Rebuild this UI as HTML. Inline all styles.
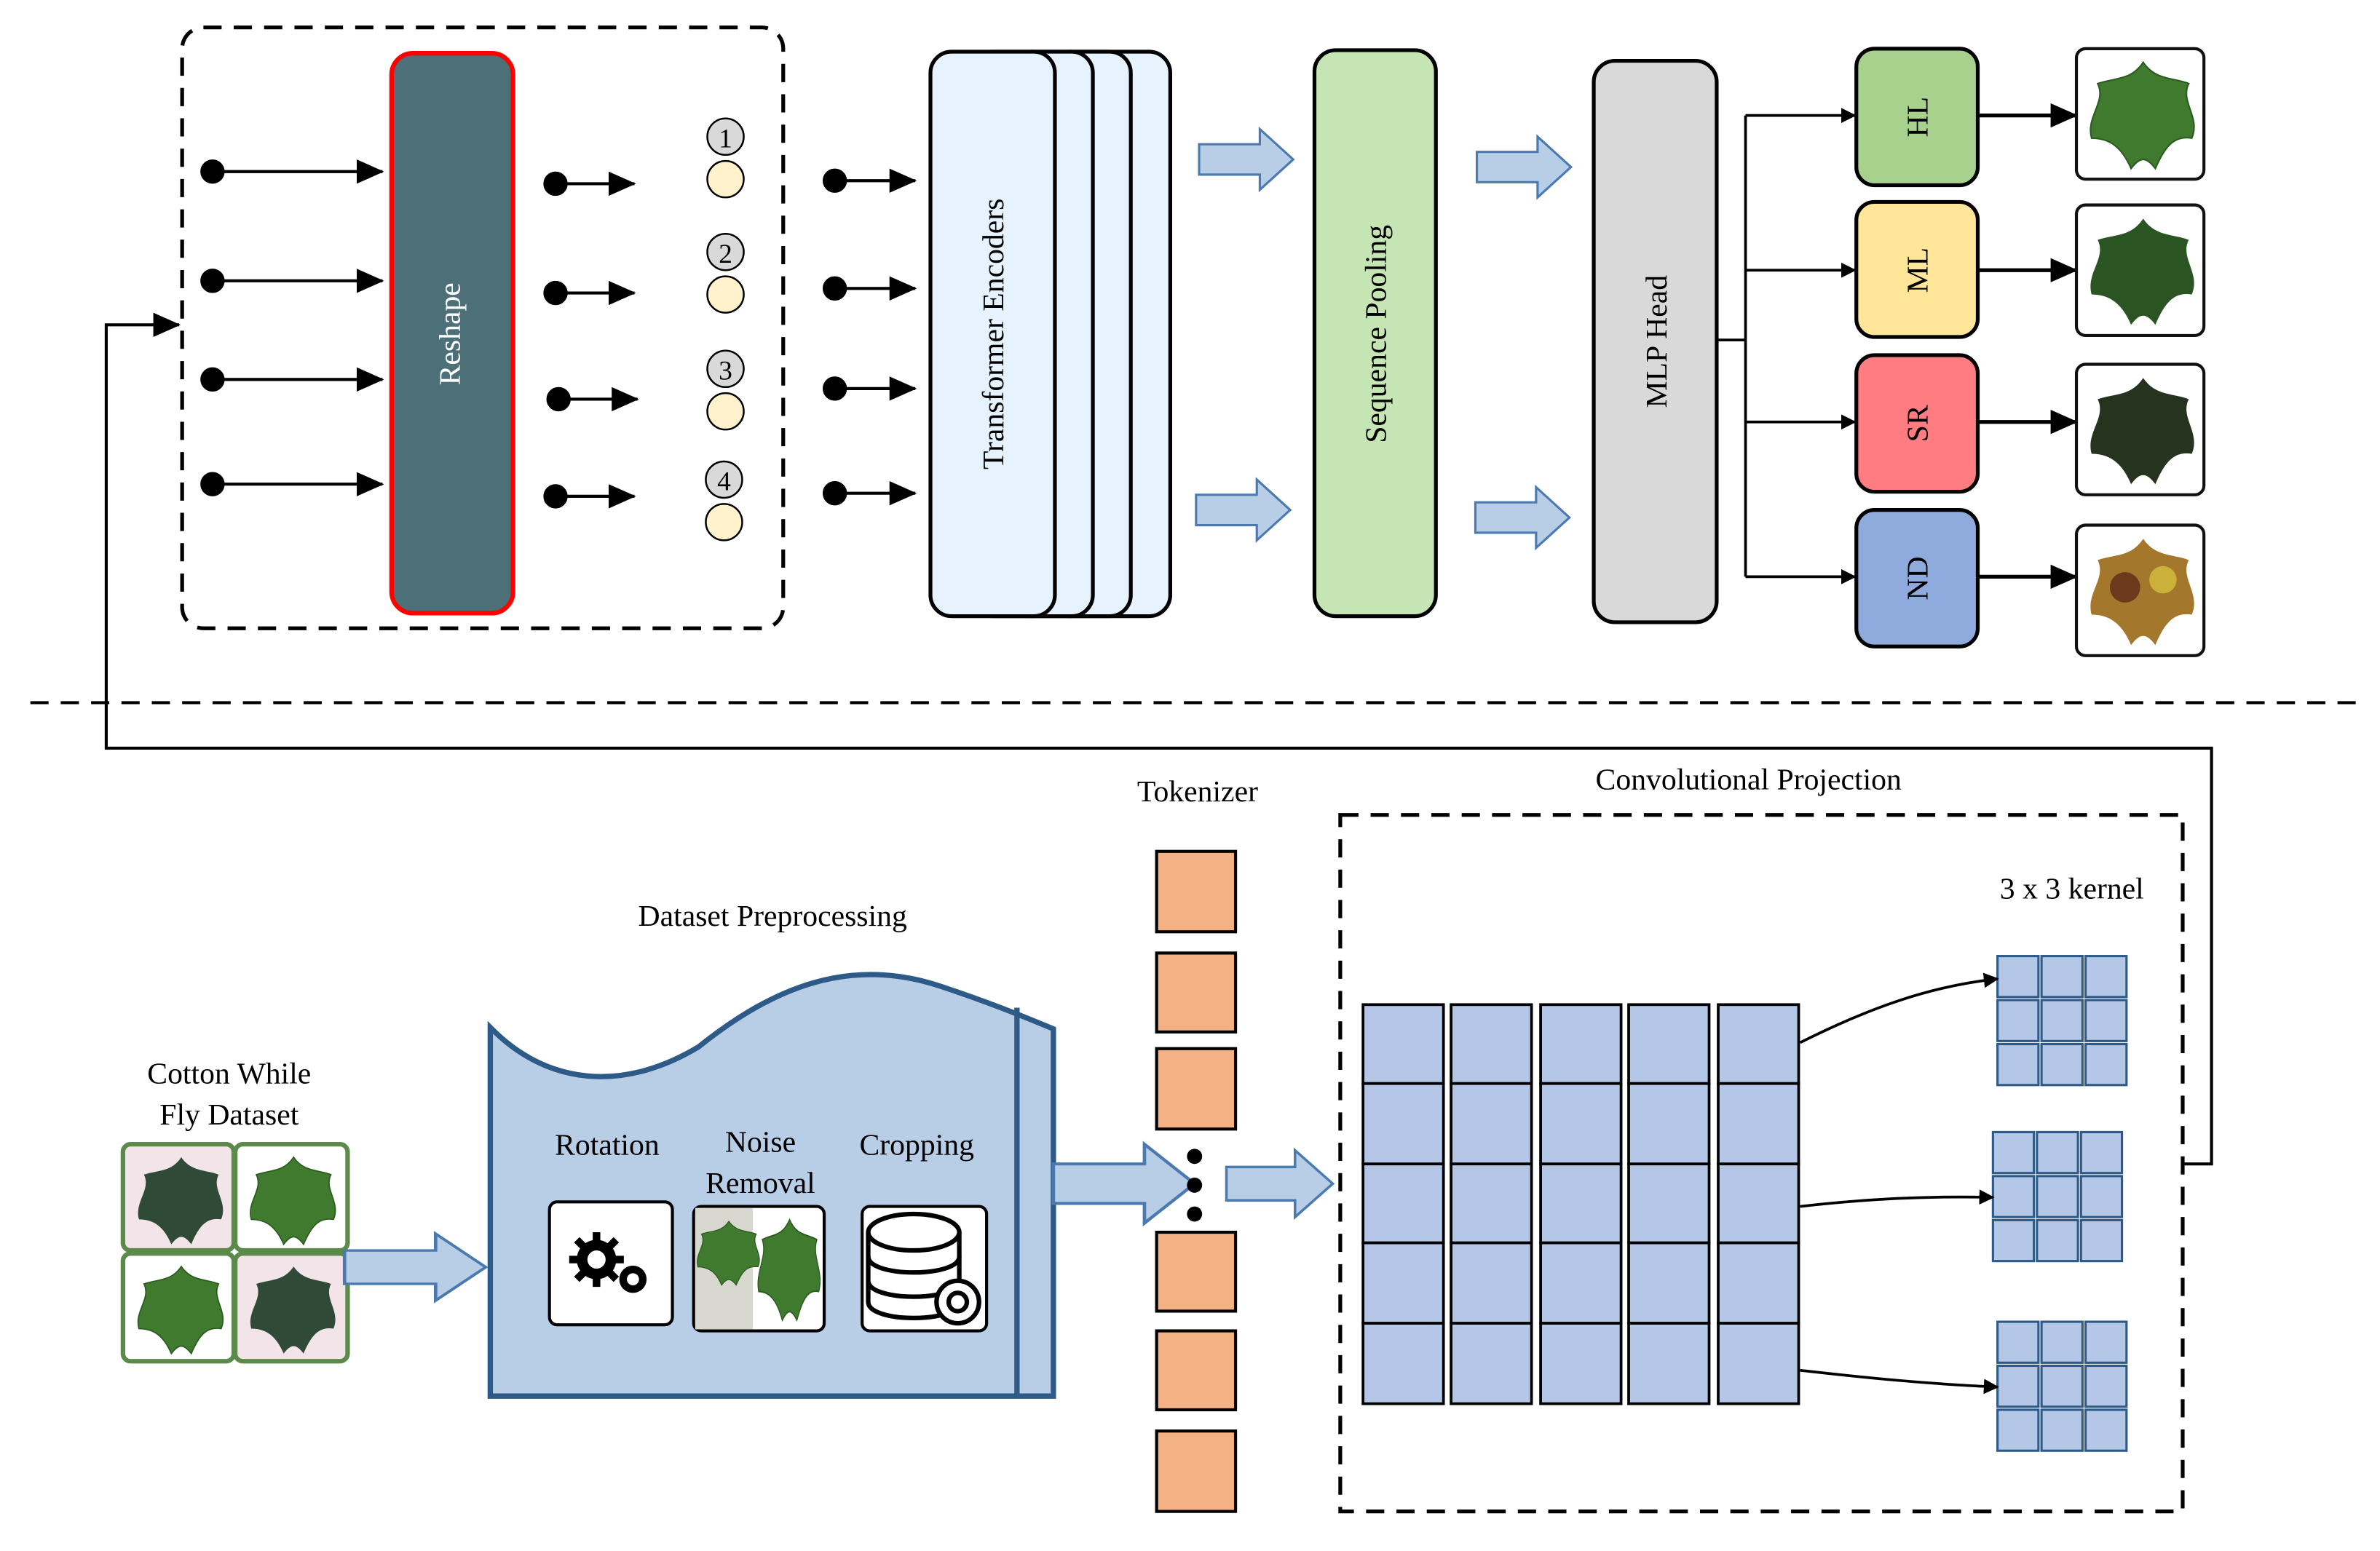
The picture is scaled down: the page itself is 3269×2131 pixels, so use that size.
<!DOCTYPE html>
<html><head><meta charset="utf-8"><style>html,body{margin:0;padding:0;background:#fff}svg{display:block}</style></head>
<body>
<svg width="3269" height="2131" viewBox="0 0 1568 1022" xmlns="http://www.w3.org/2000/svg" font-family="Liberation Serif, serif">
<defs>
<marker id="ah" markerWidth="10" markerHeight="10" refX="9" refY="5" orient="auto" markerUnits="userSpaceOnUse"><path d="M0,0 L10,5 L0,10 z" fill="#000"/></marker>
<marker id="ah2" markerWidth="18" markerHeight="16" refX="17" refY="8" orient="auto" markerUnits="userSpaceOnUse"><path d="M0,0 L18,8 L0,16 z" fill="#000"/></marker>
<g id="barrow"><path d="M0,-10 L40,-10 L40,-20 L62,0 L40,20 L40,10 L0,10 z" fill="#b8cde6" stroke="#4a7ab0" stroke-width="1.5"/></g>
<g id="leaf"><path d="M42,8 C50,20 62,18 72,22 C66,34 80,44 74,58 C62,56 56,64 50,78 C44,70 40,70 34,78 C28,64 20,58 8,58 C4,44 18,34 12,22 C24,18 34,20 42,8z" fill="#3f7a2e" stroke="#2b5a1e" stroke-width="1"/></g>
<g id="k" fill="#b4c7e7" stroke="#2e5a87" stroke-width="1.5">
<rect x="0" y="0" width="27" height="27"/><rect x="29" y="0" width="27" height="27"/><rect x="58" y="0" width="27" height="27"/>
<rect x="0" y="29" width="27" height="27"/><rect x="29" y="29" width="27" height="27"/><rect x="58" y="29" width="27" height="27"/>
<rect x="0" y="58" width="27" height="27"/><rect x="29" y="58" width="27" height="27"/><rect x="58" y="58" width="27" height="27"/>
</g>
</defs>

<!-- top dashed box -->
<rect x="120" y="18" width="396" height="396" rx="14" fill="none" stroke="#000" stroke-width="2.5" stroke-dasharray="12,8"/>
<rect x="258" y="35" width="80" height="369" rx="14" fill="#4d6f78" stroke="#f00" stroke-width="3"/>
<text transform="translate(303,220) rotate(-90)" text-anchor="middle" font-size="20" fill="#fff">Reshape</text>

<g stroke="#000" stroke-width="2" fill="#000">
<circle cx="140" cy="113" r="7"/><line x1="140" y1="113" x2="252" y2="113" marker-end="url(#ah2)"/>
<circle cx="140" cy="185" r="7"/><line x1="140" y1="185" x2="252" y2="185" marker-end="url(#ah2)"/>
<circle cx="140" cy="250" r="7"/><line x1="140" y1="250" x2="252" y2="250" marker-end="url(#ah2)"/>
<circle cx="140" cy="319" r="7"/><line x1="140" y1="319" x2="252" y2="319" marker-end="url(#ah2)"/>
<circle cx="366" cy="121" r="7"/><line x1="366" y1="121" x2="418" y2="121" marker-end="url(#ah2)"/>
<circle cx="366" cy="193" r="7"/><line x1="366" y1="193" x2="418" y2="193" marker-end="url(#ah2)"/>
<circle cx="368" cy="263" r="7"/><line x1="368" y1="263" x2="420" y2="263" marker-end="url(#ah2)"/>
<circle cx="366" cy="327" r="7"/><line x1="366" y1="327" x2="418" y2="327" marker-end="url(#ah2)"/>
<circle cx="550" cy="119" r="7"/><line x1="550" y1="119" x2="603" y2="119" marker-end="url(#ah2)"/>
<circle cx="550" cy="190" r="7"/><line x1="550" y1="190" x2="603" y2="190" marker-end="url(#ah2)"/>
<circle cx="550" cy="256" r="7"/><line x1="550" y1="256" x2="603" y2="256" marker-end="url(#ah2)"/>
<circle cx="550" cy="325" r="7"/><line x1="550" y1="325" x2="603" y2="325" marker-end="url(#ah2)"/>
</g>
<g stroke="#000" stroke-width="1.2">
<circle cx="478" cy="90" r="12" fill="#d9d9d9"/><circle cx="478" cy="118" r="12" fill="#fff2cc"/>
<circle cx="478" cy="166" r="12" fill="#d9d9d9"/><circle cx="478" cy="194" r="12" fill="#fff2cc"/>
<circle cx="478" cy="243" r="12" fill="#d9d9d9"/><circle cx="478" cy="271" r="12" fill="#fff2cc"/>
<circle cx="477" cy="316" r="12" fill="#d9d9d9"/><circle cx="477" cy="344" r="12" fill="#fff2cc"/>
</g>
<g font-size="18" text-anchor="middle"><text x="478" y="97">1</text><text x="478" y="173">2</text><text x="478" y="250">3</text><text x="477" y="323">4</text></g>

<!-- transformer stack -->
<g fill="#e6f2fd" stroke="#000" stroke-width="2.5">
<rect x="690" y="34" width="81" height="372" rx="14"/>
<rect x="665" y="34" width="80" height="372" rx="14"/>
<rect x="640" y="34" width="80" height="372" rx="14"/>
<rect x="613" y="34" width="82" height="372" rx="14"/>
</g>
<text transform="translate(661,220) rotate(-90)" text-anchor="middle" font-size="20">Transformer Encoders</text>

<use href="#barrow" transform="translate(790,105)"/>
<use href="#barrow" transform="translate(788,336)"/>
<use href="#barrow" transform="translate(973,110)"/>
<use href="#barrow" transform="translate(972,341)"/>

<rect x="866" y="33" width="80" height="373" rx="14" fill="#c6e5b5" stroke="#000" stroke-width="2.5"/>
<text transform="translate(913,220) rotate(-90)" text-anchor="middle" font-size="20">Sequence Pooling</text>
<rect x="1050" y="40" width="81" height="370" rx="14" fill="#d9d9d9" stroke="#000" stroke-width="2.5"/>
<text transform="translate(1098,225) rotate(-90)" text-anchor="middle" font-size="20">MLP Head</text>

<g stroke="#000" stroke-width="1.8" fill="none">
<polyline points="1131,224 1150,224"/>
<line x1="1150" y1="76" x2="1150" y2="380"/>
<line x1="1150" y1="76" x2="1222" y2="76" marker-end="url(#ah)"/>
<line x1="1150" y1="178" x2="1222" y2="178" marker-end="url(#ah)"/>
<line x1="1150" y1="278" x2="1222" y2="278" marker-end="url(#ah)"/>
<line x1="1150" y1="380" x2="1222" y2="380" marker-end="url(#ah)"/>
</g>
<g stroke="#000" stroke-width="2.5">
<rect x="1223" y="32" width="80" height="90" rx="12" fill="#a9d18e"/>
<rect x="1223" y="133" width="80" height="89" rx="12" fill="#ffe699"/>
<rect x="1223" y="234" width="80" height="90" rx="12" fill="#ff7c80"/>
<rect x="1223" y="336" width="80" height="90" rx="12" fill="#8faadc"/>
</g>
<g font-size="20" text-anchor="middle">
<text transform="translate(1270,77) rotate(-90)">HL</text>
<text transform="translate(1270,178) rotate(-90)">ML</text>
<text transform="translate(1270,279) rotate(-90)">SR</text>
<text transform="translate(1270,381) rotate(-90)">ND</text>
</g>
<g stroke="#000" stroke-width="2.5">
<line x1="1303" y1="76" x2="1368" y2="76" marker-end="url(#ah2)"/>
<line x1="1303" y1="178" x2="1368" y2="178" marker-end="url(#ah2)"/>
<line x1="1303" y1="278" x2="1368" y2="278" marker-end="url(#ah2)"/>
<line x1="1303" y1="380" x2="1368" y2="380" marker-end="url(#ah2)"/>
</g>
<g>
<rect x="1368" y="32" width="84" height="86" rx="6" fill="#fff" stroke="#111" stroke-width="2"/>
<use href="#leaf" transform="translate(1370,33)"/>
<rect x="1368" y="135" width="84" height="86" rx="6" fill="#fff" stroke="#111" stroke-width="2"/>
<g transform="translate(1370,136)"><path d="M42,8 C50,20 62,18 72,22 C66,34 80,44 74,58 C62,56 56,64 50,78 C44,70 40,70 34,78 C28,64 20,58 8,58 C4,44 18,34 12,22 C24,18 34,20 42,8z" fill="#2b5423"/></g>
<rect x="1368" y="240" width="84" height="86" rx="6" fill="#fff" stroke="#111" stroke-width="2"/>
<g transform="translate(1370,241)"><path d="M42,8 C50,20 62,18 72,22 C66,34 80,44 74,58 C62,56 56,64 50,78 C44,70 40,70 34,78 C28,64 20,58 8,58 C4,44 18,34 12,22 C24,18 34,20 42,8z" fill="#26331f"/></g>
<rect x="1368" y="346" width="84" height="86" rx="6" fill="#fff" stroke="#111" stroke-width="2"/>
<g transform="translate(1370,347)"><path d="M42,8 C50,20 62,18 72,22 C66,34 80,44 74,58 C62,56 56,64 50,78 C44,70 40,70 34,78 C28,64 20,58 8,58 C4,44 18,34 12,22 C24,18 34,20 42,8z" fill="#a3772c"/><circle cx="30" cy="40" r="10" fill="#6b3a1c"/><circle cx="55" cy="35" r="9" fill="#c9b13a"/></g>
</g>

<!-- separator -->
<line x1="20" y1="463" x2="1555" y2="463" stroke="#000" stroke-width="2" stroke-dasharray="12,8"/>

<!-- feedback line -->
<g stroke="#000" stroke-width="2" fill="none">
<polyline points="1438,767 1457,767 1457,493 70,493 70,214 118,214" marker-end="url(#ah2)"/>
</g>

<!-- bottom -->
<text x="151" y="714" text-anchor="middle" font-size="20">Cotton While</text>
<text x="151" y="741" text-anchor="middle" font-size="20">Fly Dataset</text>
<g stroke="#5b8a4a" stroke-width="3">
<rect x="81" y="754" width="73" height="70" rx="5" fill="#f2e4e8"/>
<rect x="155" y="754" width="74" height="70" rx="5" fill="#fff"/>
<rect x="81" y="826" width="73" height="71" rx="5" fill="#fff"/>
<rect x="155" y="826" width="74" height="71" rx="5" fill="#f2e4e8"/>
</g>
<g transform="translate(85,756) scale(0.82)"><path d="M42,8 C50,20 62,18 72,22 C66,34 80,44 74,58 C62,56 56,64 50,78 C44,70 40,70 34,78 C28,64 20,58 8,58 C4,44 18,34 12,22 C24,18 34,20 42,8z" fill="#2f4a36"/></g>
<use href="#leaf" transform="translate(159,756) scale(0.82)"/>
<use href="#leaf" transform="translate(85,828) scale(0.82)"/>
<g transform="translate(159,828) scale(0.82)"><path d="M42,8 C50,20 62,18 72,22 C66,34 80,44 74,58 C62,56 56,64 50,78 C44,70 40,70 34,78 C28,64 20,58 8,58 C4,44 18,34 12,22 C24,18 34,20 42,8z" fill="#2f4a36"/></g>
<use href="#barrow" transform="translate(227,835) scale(1.5,1.1)"/>

<text x="509" y="610" text-anchor="middle" font-size="20">Dataset Preprocessing</text>
<path d="M323,677 C360,715 410,720 460,690 C510,650 560,630 620,650 C650,660 670,668 694,678 L694,920 L323,920 Z" fill="#b8cde6" stroke="#2e5a87" stroke-width="3.5"/>
<line x1="670" y1="664" x2="670" y2="920" stroke="#2e5a87" stroke-width="3.5"/>
<g font-size="20" text-anchor="middle">
<text x="400" y="761">Rotation</text>
<text x="501" y="759">Noise</text>
<text x="501" y="786">Removal</text>
<text x="604" y="761">Cropping</text>
</g>
<rect x="362" y="792" width="81" height="81" rx="5" fill="#fff" stroke="#000" stroke-width="2"/>
<g fill="#000"><circle cx="393" cy="830" r="13"/><circle cx="417" cy="843" r="9"/><circle cx="417" cy="843" r="4" fill="#fff"/></g>
<g stroke="#000" stroke-width="5"><line x1="393" y1="812" x2="393" y2="848"/><line x1="375" y1="830" x2="411" y2="830"/><line x1="380" y1="817" x2="406" y2="843"/><line x1="406" y1="817" x2="380" y2="843"/></g>
<circle cx="393" cy="830" r="6" fill="#fff"/>
<rect x="457" y="795" width="86" height="82" rx="5" fill="#fff" stroke="#000" stroke-width="2"/>
<rect x="458" y="796" width="38" height="80" fill="#d8d8d0"/>
<use href="#leaf" transform="translate(455,800) scale(0.6)"/>
<use href="#leaf" transform="translate(495,796) scale(0.6,0.95)"/>
<rect x="568" y="795" width="82" height="82" rx="5" fill="#fff" stroke="#000" stroke-width="2"/>
<g fill="none" stroke="#000" stroke-width="3">
<ellipse cx="602" cy="812" rx="30" ry="12"/>
<path d="M572,812 L572,858 C572,872 632,872 632,858 L632,812"/>
<path d="M572,828 C572,842 632,842 632,828"/><path d="M572,844 C572,858 632,858 632,844"/>
</g>
<circle cx="631" cy="858" r="14" fill="#fff" stroke="#000" stroke-width="3"/><circle cx="631" cy="858" r="6" fill="none" stroke="#000" stroke-width="3"/>

<use href="#barrow" transform="translate(694,780) scale(1.5,1.3)"/>
<use href="#barrow" transform="translate(808,780) scale(1.13,1.1)"/>

<text x="789" y="528" text-anchor="middle" font-size="20">Tokenizer</text>
<g fill="#f4b183" stroke="#000" stroke-width="2">
<rect x="762" y="561" width="52" height="53"/><rect x="762" y="628" width="52" height="52"/><rect x="762" y="691" width="52" height="53"/>
<rect x="762" y="812" width="52" height="52"/><rect x="762" y="877" width="52" height="52"/><rect x="762" y="943" width="52" height="53"/>
</g>
<g fill="#000"><circle cx="787" cy="762" r="5"/><circle cx="787" cy="781" r="5"/><circle cx="787" cy="800" r="5"/></g>

<text x="1152" y="520" text-anchor="middle" font-size="20">Convolutional Projection</text>
<rect x="883" y="537" width="555" height="459" fill="none" stroke="#000" stroke-width="2.5" stroke-dasharray="12,8"/>
<text x="1365" y="592" text-anchor="middle" font-size="20">3 x 3 kernel</text>

<g fill="#b4c7e7" stroke="#000" stroke-width="1.8">
<g id="col">
<rect x="898" y="662" width="53" height="52"/><rect x="898" y="714" width="53" height="53"/><rect x="898" y="767" width="53" height="52"/><rect x="898" y="819" width="53" height="53"/><rect x="898" y="872" width="53" height="53"/>
</g>
<use href="#col" transform="translate(58,0)"/>
<use href="#col" transform="translate(117,0)"/>
<use href="#col" transform="translate(175,0)"/>
<use href="#col" transform="translate(234,0)"/>
</g>

<use href="#k" transform="translate(1316,630)"/>
<use href="#k" transform="translate(1313,746)"/>
<use href="#k" transform="translate(1316,871)"/>

<g stroke="#000" stroke-width="1.8" fill="none">
<path d="M1186,687 C1230,665 1270,650 1316,645" marker-end="url(#ah)"/>
<path d="M1186,795 C1230,790 1270,788 1313,789" marker-end="url(#ah)"/>
<path d="M1186,903 C1230,908 1270,912 1316,914" marker-end="url(#ah)"/>
</g>
</svg>
</body></html>
